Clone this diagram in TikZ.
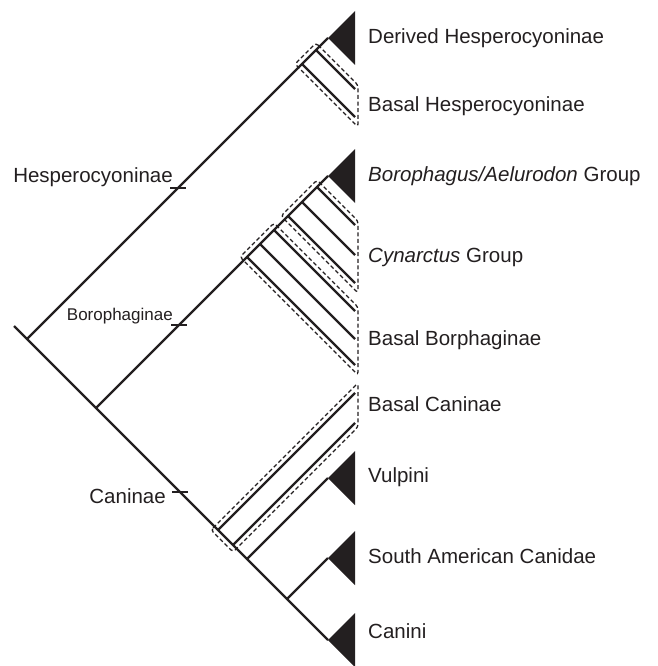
\documentclass[tikz,border=0pt]{standalone}
\usepackage{fontspec}
\setmainfont{Liberation Sans}
\definecolor{ink}{HTML}{231F20}
\begin{document}
\begin{tikzpicture}[x=1pt,y=-1pt,
  branch/.style={draw=ink, line width=2.4pt},
  clade/.style={fill=ink, draw=none},
  groupbox/.style={draw=ink, line width=1.3pt, dash pattern=on 4pt off 2.6pt, rounded corners=3pt},
  tickmark/.style={draw=ink, line width=2.2pt},
  tiplabel/.style={anchor=base west, inner sep=0pt, text=ink, font=\fontsize{20.5}{24}\selectfont},
  cladelabel/.style={anchor=base east, inner sep=0pt, text=ink, font=\fontsize{20.5}{24}\selectfont}]
\useasboundingbox (0,0) rectangle (657,666);

% backbone
\coordinate (stem) at (14,326);
\coordinate (root) at (27,339);
\coordinate (bc)   at (96,408);
\coordinate (vul)  at (247,559);
\coordinate (sa)   at (287,599);
% clade apexes (collapsed triangles)
\coordinate (hesA) at (328,38);
\coordinate (borA) at (328,176);
\coordinate (vulA) at (328,478);
\coordinate (saA)  at (328,558);
\coordinate (canA) at (328,640);

% Hesperocyoninae basal branches
\coordinate (h1) at (316,50);  \coordinate (h1t) at (355,89);
\coordinate (h2) at (302,64);  \coordinate (h2t) at (355,117);
% Borophaginae branches
\coordinate (b1) at (317,187); \coordinate (b1t) at (355,225);
\coordinate (b2) at (302,202); \coordinate (b2t) at (355,255);
\coordinate (b3) at (288,216); \coordinate (b3t) at (355,283);
\coordinate (b4) at (274,230); \coordinate (b4t) at (355,311);
\coordinate (b5) at (260,244); \coordinate (b5t) at (355,339);
\coordinate (b6) at (247,257); \coordinate (b6t) at (355,365);
% basal Caninae branches
\coordinate (c1) at (218,530); \coordinate (c1t) at (355,393);
\coordinate (c2) at (233,545); \coordinate (c2t) at (355,423);

% collapsed clades
\foreach \a in {hesA,borA,vulA,saA,canA}
  \fill[clade] (\a) -- ++(27,-27) -- ++(0,54) -- cycle;

% tree
\draw[branch] (stem) -- (root) -- (bc) -- (vul) -- (sa) -- (canA);
\draw[branch] (root) -- (hesA);
\draw[branch] (bc) -- (borA);
\draw[branch] (vul) -- (vulA);
\draw[branch] (sa) -- (saA);
\foreach \p in {h1,h2,b1,b2,b3,b4,b5,b6,c1,c2}
  \draw[branch] (\p) -- (\p t);

% grade boxes
\draw[groupbox] (316,43) -- (358,85) -- (358,127) -- (295,64) -- cycle;
\draw[groupbox] (317,180) -- (358,221) -- (358,293) -- (281,216) -- cycle;
\draw[groupbox] (274,223) -- (358,307) -- (358,375) -- (240,257) -- cycle;
\draw[groupbox] (211,530) -- (358,383) -- (358,427) -- (233,552) -- cycle;

% subfamily ticks
\coordinate (hesT) at (178,188);
\coordinate (borT) at (179,325);
\coordinate (canT) at (180,492);
\foreach \t in {hesT,borT,canT}
  \draw[tickmark] ([xshift=-8pt]\t) -- ([xshift=8pt]\t);

% subfamily labels
\node[cladelabel] (lhes) at (173,182) {Hesperocyoninae};
\node[cladelabel, font=\fontsize{17}{20}\selectfont] (lbor) at (173,320) {Borophaginae};
\node[cladelabel] (lcan) at (166,503) {Caninae};

% tip labels
\node[tiplabel] (t1) at (368,44)  {Derived Hesperocyoninae};
\node[tiplabel] (t2) at (368,111) {Basal Hesperocyoninae};
\node[tiplabel] (t3) at (368,181) {\textit{Borophagus/Aelurodon} Group};
\node[tiplabel] (t4) at (368,262) {\textit{Cynarctus} Group};
\node[tiplabel] (t5) at (368,345) {Basal Borphaginae};
\node[tiplabel] (t6) at (368,411) {Basal Caninae};
\node[tiplabel] (t7) at (368,482) {Vulpini};
\node[tiplabel] (t8) at (368,563) {South American Canidae};
\node[tiplabel] (t9) at (368,638) {Canini};
\end{tikzpicture}
\end{document}
